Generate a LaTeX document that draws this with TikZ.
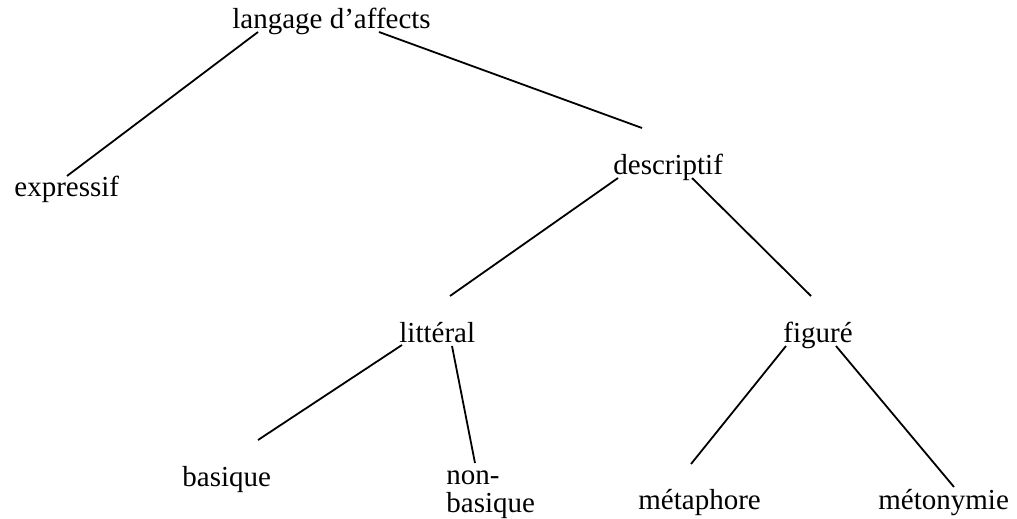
\documentclass[tikz,border=0pt]{standalone}
\usepackage{fontspec}
\setmainfont{Liberation Serif}

\begin{document}
\begin{tikzpicture}[x=0.5pt,y=-0.5pt,
        term/.style={inner sep=0pt,anchor=base west,font=\fontsize{14.5}{14}\selectfont},
        branch/.style={line width=0.9pt}]
            % frame
            \useasboundingbox (0,0) rectangle (1017,519);

            % labels
            \node[term] (lang) at (232,29) {langage d’affects};
            \node[term] (expr) at (14,196) {expressif};
            \node[term] (desc) at (613,174) {descriptif};
            \node[term] (litt) at (399,342) {littéral};
            \node[term] (fig) at (783,342) {figuré};
            \node[term] (bas) at (182,486) {basique};
            \node[term,align=left] (nonbas) at (446,512) {non-\\basique};
            \node[term] (meta) at (638,509) {métaphore};
            \node[term] (meto) at (878,509) {métonymie};

            % branch ends
            \coordinate (l1) at (258,32);  \coordinate (e1) at (67,176);
            \coordinate (l2) at (379,32);  \coordinate (d1) at (642,128);
            \coordinate (d2) at (618,178); \coordinate (t1) at (450,296);
            \coordinate (d3) at (692,178); \coordinate (f1) at (811,296);
            \coordinate (t2) at (402,345); \coordinate (b1) at (258,440);
            \coordinate (t3) at (452,346); \coordinate (n1) at (475,463);
            \coordinate (f2) at (786,346); \coordinate (m1) at (691,464);
            \coordinate (f3) at (836,346); \coordinate (m2) at (954,487);

            % branches
            \foreach \a/\b in {l1/e1,l2/d1,d2/t1,d3/f1,t2/b1,t3/n1,f2/m1,f3/m2}
            \draw[branch] (\a) -- (\b);
        \end{tikzpicture}
\end{document}
